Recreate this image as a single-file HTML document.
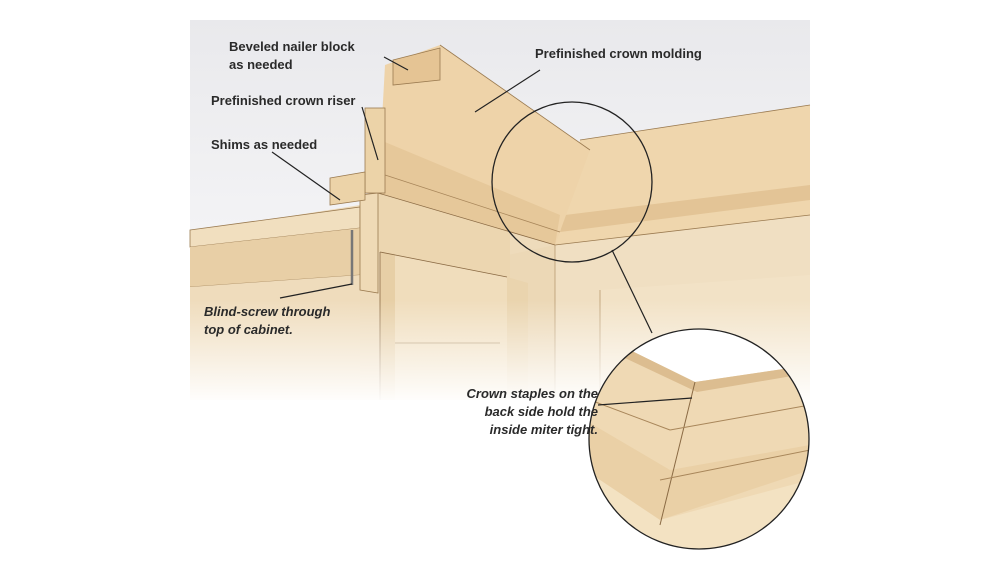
<!DOCTYPE html>
<html><head><style>
html,body{margin:0;padding:0;background:#fff;}
svg{display:block;}
text{font-family:"Liberation Sans",sans-serif;font-size:13px;font-weight:bold;fill:#2a2a2a;}
.i{font-style:italic;}
</style></head><body>
<svg width="1000" height="563" viewBox="0 0 1000 563" xmlns="http://www.w3.org/2000/svg">
<defs>
<linearGradient id="fade" x1="0" y1="0" x2="0" y2="1">
<stop offset="0" stop-color="#fff" stop-opacity="0"/>
<stop offset="1" stop-color="#fff" stop-opacity="1"/>
</linearGradient>
<linearGradient id="ceil" x1="0" y1="0" x2="0" y2="1">
<stop offset="0" stop-color="#e9e9ec"/>
<stop offset="1" stop-color="#f4f4f6"/>
</linearGradient>
<clipPath id="c2"><circle cx="699" cy="439" r="110"/></clipPath>
</defs>
<!-- ceiling -->
<rect x="190" y="20" width="620" height="230" fill="url(#ceil)"/>
<!-- base wood fill -->
<polygon points="190,232 360,205 385,195 555,245 810,210 810,400 190,400" fill="#eedbbb"/>
<!-- right wall face -->
<polygon points="555,245 810,215 810,400 555,400" fill="#f0dfc2"/>
<polygon points="600,290 810,275 810,400 600,400" fill="#f2e2c6"/>
<line x1="600" y1="290" x2="600" y2="400" stroke="#b89a70" stroke-width="0.8"/>
<polygon points="508,255 555,245 555,400 508,400" fill="#ecd8b6"/>
<line x1="555" y1="245" x2="555" y2="400" stroke="#b89a70" stroke-width="0.8"/>
<!-- left cabinet -->
<polygon points="190,230 360,207 360,228 190,247" fill="#f1dfbf" stroke="#9a7a50" stroke-width="0.8"/>
<polygon points="190,247 360,228 360,275 190,287" fill="#e8cfa6"/>
<line x1="190" y1="287" x2="360" y2="275" stroke="#a88a60" stroke-width="0.8"/>
<polygon points="190,287 360,275 360,400 190,400" fill="#efdcbc"/>
<!-- upper face behind door -->
<polygon points="378,193 510,230 510,280 378,252" fill="#ecd6b0"/>
<!-- stile -->
<polygon points="360,195 378,193 378,293 360,290" fill="#efdab6" stroke="#9a7a50" stroke-width="0.8"/>
<!-- door -->
<polygon points="380,252 507,277 507,400 380,400" fill="#f0ddbc"/>
<polygon points="380,252 395,254 395,400 380,400" fill="#e7cfa6"/>
<polygon points="507,277 528,283 528,400 507,400" fill="#ead4ae"/>
<line x1="380" y1="252" x2="507" y2="277" stroke="#8a6a44" stroke-width="0.8"/>
<line x1="380" y1="252" x2="380" y2="400" stroke="#8a6a44" stroke-width="0.8"/>
<line x1="395" y1="343" x2="500" y2="343" stroke="#a88a60" stroke-width="0.8"/>
<!-- crown right run -->
<polygon points="580,140 810,105 810,215 555,245" fill="#efd6ad"/>
<polygon points="565,215 810,185 810,200 560,232" fill="#e3c496"/>
<line x1="580" y1="140" x2="810" y2="105" stroke="#9a7a50" stroke-width="0.8"/>
<line x1="555" y1="245" x2="810" y2="215" stroke="#9a7a50" stroke-width="0.8"/>
<!-- crown front -->
<polygon points="385,65 440,45 590,150 555,245 378,193" fill="#eed3a9"/>
<polygon points="380,140 560,215 555,245 378,193" fill="#e6c89a"/>
<line x1="440" y1="45" x2="590" y2="150" stroke="#9a7a50" stroke-width="0.8"/>
<line x1="385" y1="175" x2="560" y2="232" stroke="#a8865a" stroke-width="0.8"/>
<line x1="378" y1="193" x2="555" y2="245" stroke="#8a6a44" stroke-width="0.8"/>
<!-- riser -->
<rect x="365" y="108" width="20" height="85" fill="#ecd3a8" stroke="#9a7a50" stroke-width="0.8"/>
<!-- nailer block -->
<polygon points="393,60 440,48 440,80 393,85" fill="#e5c494" stroke="#9a7a50" stroke-width="0.8"/>
<!-- shims -->
<polygon points="330,178 365,172 365,200 330,205" fill="#ecd3a8" stroke="#9a7a50" stroke-width="0.8"/>
<!-- screw -->
<line x1="352" y1="230" x2="352" y2="285" stroke="#777" stroke-width="2.5"/>
<!-- fade -->
<rect x="185" y="300" width="630" height="105" fill="url(#fade)"/>
<!-- circle 1 -->
<circle cx="572" cy="182" r="80" fill="none" stroke="#222" stroke-width="1.3"/>
<line x1="612" y1="250" x2="652" y2="333" stroke="#222" stroke-width="1.2"/>
<!-- circle 2 -->
<circle cx="699" cy="439" r="110" fill="#fff"/>
<g clip-path="url(#c2)">
<polygon points="630,350 695,382 810,365 810,560 585,560 585,370" fill="#efd9b4"/>
<polygon points="630,350 695,382 810,365 810,373 697,392 625,358" fill="#dcbd90"/>
<polygon points="585,420 670,470 810,445 810,470 660,520 585,470" fill="#ead0a6"/>
<polygon points="585,470 660,520 810,480 810,560 585,560" fill="#f3e2c2"/>
<line x1="695" y1="382" x2="660" y2="525" stroke="#8a6a44"/>
<line x1="670" y1="430" x2="810" y2="405" stroke="#a8865a"/>
<line x1="660" y1="480" x2="810" y2="450" stroke="#a8865a"/>
<line x1="590" y1="400" x2="670" y2="430" stroke="#a8865a"/>
</g>
<circle cx="699" cy="439" r="110" fill="none" stroke="#222" stroke-width="1.3"/>
<!-- leaders -->
<g stroke="#222" stroke-width="1.2">
<line x1="384" y1="57" x2="408" y2="70"/>
<line x1="362" y1="107" x2="378" y2="160"/>
<line x1="272" y1="152" x2="340" y2="200"/>
<line x1="475" y1="112" x2="540" y2="70"/>
<line x1="280" y1="298" x2="352" y2="284"/>
<line x1="598" y1="405" x2="692" y2="398"/>
</g>
<!-- labels -->
<text x="229" y="51">Beveled nailer block</text>
<text x="229" y="69">as needed</text>
<text x="535" y="58">Prefinished crown molding</text>
<text x="211" y="105">Prefinished crown riser</text>
<text x="211" y="149">Shims as needed</text>
<text class="i" x="204" y="316">Blind-screw through</text>
<text class="i" x="204" y="334">top of cabinet.</text>
<text class="i" x="598" y="398" text-anchor="end">Crown staples on the</text>
<text class="i" x="598" y="416" text-anchor="end">back side hold the</text>
<text class="i" x="598" y="434" text-anchor="end">inside miter tight.</text>
</svg>
</body></html>
